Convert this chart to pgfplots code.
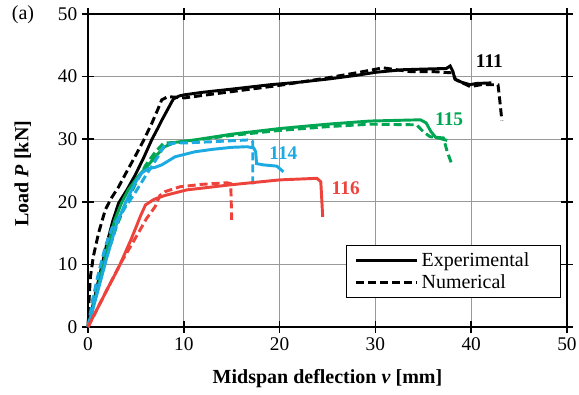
\documentclass[border=0pt]{standalone}
\usepackage{fontspec}
\setmainfont{Liberation Serif}
\usepackage{pgfplots}
\pgfplotsset{compat=1.18}
\definecolor{cgreen}{RGB}{0,166,81}
\definecolor{cblue}{RGB}{28,170,226}
\definecolor{cred}{RGB}{237,67,60}
\begin{document}
\begin{tikzpicture}
\begin{axis}[
  name=ax,
  scale only axis,
  width=359.25pt, height=234.75pt,
  xmin=0,xmax=50,ymin=0,ymax=50,
  xtick={0,10,...,50}, ytick={0,10,...,50},
  grid=major,
  major grid style={gray!80, line width=0.5pt},
  axis line style={line width=1.4pt},
  tick align=center,
  major tick length=9pt,
  tick style={line width=1.2pt, black},
  clip=false,
  /pgf/number format/assume math mode=true,
  ticklabel style={font=\fontsize{14.5}{16}\selectfont},
  xlabel={\textbf{Midspan deflection \textit{v} [mm]}},
  ylabel={\textbf{Load \textit{P} [kN]}},
  label style={font=\fontsize{15}{17}\selectfont},
  xlabel style={at={(axis description cs:0.5,-0.165)},anchor=center},
  ylabel style={at={(axis description cs:-0.136,0.49)},anchor=center},
  legend style={at={(axis description cs:0.539,0.262)}, anchor=north west,
    draw=black, line width=0.75pt, font=\fontsize{15}{17}\selectfont,
    inner xsep=6pt, inner ysep=3pt, row sep=1pt},
  legend cell align=left,
  legend image code/.code={\draw[#1] (0pt,0pt) -- (46pt,0pt);},
]
\addlegendimage{black, line width=2.2pt}
\addlegendentry{\makebox[96pt][l]{Experimental}}
\addlegendimage{black, line width=2.2pt, dash pattern=on 6pt off 3pt}
\addlegendentry{\makebox[96pt][l]{Numerical}}

% 111 experimental
\addplot[black, line width=2.2pt, forget plot] coordinates {
(0,0) (1,6.8) (2,13.5) (2.6,17) (3.2,19.8) (4.1,22) (4.9,24.2) (5.8,27) (6.65,29.9) (7.2,31.5) (7.8,33.3) (8.9,36.4) (9.5,36.9) (10.1,37.1) (12,37.5) (15,38) (19,38.7) (22,39.1) (25,39.6) (28,40.2) (30.1,40.7) (32.9,41.1) (35,41.2) (37.4,41.3) (37.8,41.7) (38.1,40.8) (38.3,39.6) (39,39.1) (39.9,38.7) (40.5,38.9) (42.1,39.0)};
% 111 numerical
\addplot[black, line width=2.2pt, dash pattern=on 6pt off 3pt, forget plot] coordinates {
(0,0) (0.1,4) (0.25,8) (0.55,11.2) (1.1,15) (1.8,18.7) (2.4,20.5) (3.2,22.4) (4,24.7) (4.9,27.2) (5.8,29.8) (6.65,32.5) (7.3,34.8) (7.7,36.3) (8.35,36.8) (10.1,36.6) (12,37) (15,37.6) (20,38.6) (25,39.8) (28,40.6) (30.8,41.4) (33.6,40.8) (36,40.8) (38,40.6) (38.4,39.5) (39.9,38.4) (41,38.7) (42.8,38.7) (43.0,36) (43.2,33)};
% 115 experimental
\addplot[cgreen, line width=2.2pt, forget plot] coordinates {
(0,0) (1,6.2) (2,12.5) (2.8,17.1) (3.5,19.8) (4.2,21.9) (5.2,24) (6.3,25.9) (7.2,27.5) (8.0,28.8) (9.1,29.5) (11.2,29.9) (15,30.8) (20,31.7) (25,32.4) (29.4,32.9) (34.7,33.1) (35.3,32.6) (35.8,31.2) (36.3,30.3) (37.5,29.8)};
% 115 numerical
\addplot[cgreen, line width=2.2pt, dash pattern=on 6pt off 3pt, forget plot] coordinates {
(0,0) (1,6) (2,11.5) (3,16.2) (4,19.8) (5,23) (6,25.8) (7,27.9) (7.9,29.4) (9.6,29.5) (12,30) (15,30.6) (20,31.4) (25,32) (29.4,32.4) (34.3,32.3) (35,31.2) (35.7,30.4) (37.1,30.2) (37.5,28) (38,25.9)};
% 114 experimental
\addplot[cblue, line width=2.2pt, forget plot] coordinates {
(0,0) (1,5.6) (2,11.3) (3,16.5) (3.9,19.8) (4.9,23) (5.6,24.6) (6.3,25.3) (7,25.5) (7.7,25.9) (9.1,27.2) (11.2,28) (13.1,28.4) (15,28.7) (16.6,28.8) (17.3,28.6) (17.5,28) (17.6,26.1) (18.3,25.9) (19.7,25.7) (20.4,24.8)};
% 114 numerical
\addplot[cblue, line width=2.2pt, dash pattern=on 6pt off 3pt, forget plot] coordinates {
(0,0) (0.5,4.5) (1,8) (1.8,12.8) (2.5,15.8) (3.7,18.7) (4.9,21.4) (5.95,24) (7.3,27.2) (8.0,29.1) (9.1,29.4) (10,29.4) (13,29.6) (16.9,29.9) (17.2,29.6) (17.2,22.4)};
% 116 experimental
\addplot[cred, line width=2.2pt, forget plot] coordinates {
(0,0) (1,3) (2,6) (3.2,9.5) (4.5,14) (5.5,17.8) (6.0,19.5) (6.9,20.4) (8,21) (10.3,21.9) (14.8,22.7) (20,23.5) (23.9,23.75) (24.3,23.2) (24.5,17.6)};
% 116 numerical
\addplot[cred, line width=2.2pt, dash pattern=on 6pt off 3pt, forget plot] coordinates {
(0,0) (1,3) (2,6) (3.3,9.9) (4.3,12.5) (5.25,15) (6.1,17.3) (7.0,19.2) (7.5,21) (8.0,21.6) (9.6,22.4) (12,22.8) (14.5,23.05) (14.9,22.9) (15,17.1)};

\node[font=\bfseries\fontsize{14.5}{16}\selectfont, text=black] at (axis cs:41.9,42.4) {111};
\node[font=\bfseries\fontsize{14.5}{16}\selectfont, text=cgreen] at (axis cs:37.7,33.2) {115};
\node[font=\bfseries\fontsize{14.5}{16}\selectfont, text=cblue] at (axis cs:20.4,27.7) {114};
\node[font=\bfseries\fontsize{14.5}{16}\selectfont, text=cred] at (axis cs:26.9,22.2) {116};
\node[font=\fontsize{15}{17}\selectfont] at (rel axis cs:-0.1357,0.997) {(a)};
\end{axis}
\pgfresetboundingbox
\path (ax.south west) ++(-66pt,-50.25pt) rectangle ++(434.25pt,295.5pt);
\end{tikzpicture}
\end{document}
